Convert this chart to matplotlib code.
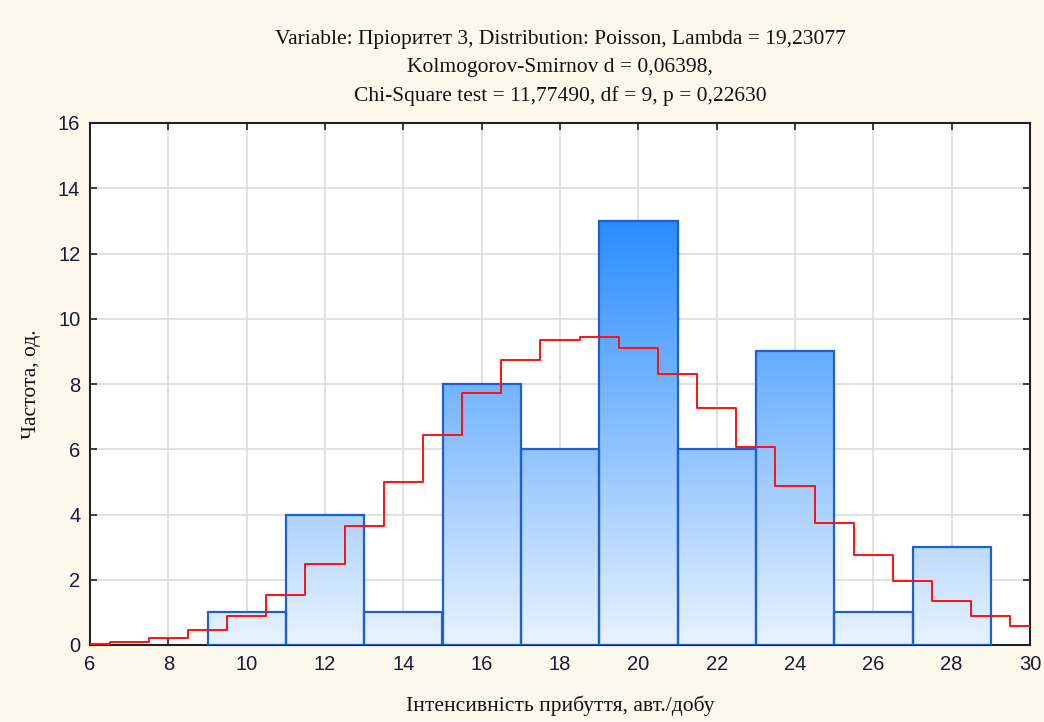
import numpy as np
import matplotlib
matplotlib.use("Agg")
import matplotlib.pyplot as plt
from matplotlib.colors import LinearSegmentedColormap

# Data
bin_edges = [9, 11, 13, 15, 17, 19, 21, 23, 25, 27, 29]
counts = [1, 4, 1, 8, 6, 13, 6, 9, 1, 3]
expected_x = list(range(6, 31))
expected_y = [0.03, 0.09, 0.21, 0.46, 0.88, 1.54, 2.47, 3.65, 5.01, 6.43, 7.73,
              8.74, 9.34, 9.45, 9.09, 8.32, 7.27, 6.08, 4.87, 3.75, 2.77, 1.97,
              1.35, 0.90, 0.58]
title_lines = ["Variable: Пріоритет 3, Distribution: Poisson, Lambda = 19,23077",
               "Kolmogorov-Smirnov d = 0,06398,",
               "Chi-Square test = 11,77490, df = 9, p = 0,22630"]
xlabel = "Інтенсивність прибуття, авт./добу"
ylabel = "Частота, од."

bg = "#fdf8ec"
fig = plt.figure(figsize=(10.44, 7.22), dpi=100, facecolor=bg)
ax = fig.add_axes([90/1044, 1-645/722, 940/1044, 522/722])
ax.set_facecolor("white")
ax.set_xticks(range(6, 31, 2))
ax.set_yticks(range(0, 17, 2))
ax.grid(True, color="#dcdcdc", linewidth=1.2, zorder=0)
ax.set_axisbelow(True)

cmap = LinearSegmentedColormap.from_list("g", ["#e8f3ff", "#2a8cff"])
grad = np.linspace(0, 1, 256).reshape(-1, 1)
widths = np.diff(bin_edges)
bars = ax.bar(bin_edges[:-1], counts, width=widths, align="edge",
              facecolor="none", edgecolor="#1f5fd0", linewidth=1.6, zorder=3)
for b in bars:
    im = ax.imshow(grad, extent=[6, 30, 0, 13], origin="lower", cmap=cmap,
                   aspect="auto", zorder=2, interpolation="bilinear")
    im.set_clip_path(b)
ax.set_xlim(6, 30)
ax.set_ylim(0, 16)

ax.step(expected_x, expected_y, where="mid", color="#ff1010", linewidth=1.4, zorder=4)

for s in ax.spines.values():
    s.set_color("#222222")
    s.set_linewidth(1.5)
ax.tick_params(direction="in", length=5, width=1.2, top=True, right=True,
               labelsize=14.5, pad=7, colors="#222222")
for lab in ax.get_xticklabels() + ax.get_yticklabels():
    lab.set_family(["Liberation Sans", "DejaVu Sans"])
    lab.set_color("#1a1a3a")

serif = ["Liberation Serif", "DejaVu Serif"]
ax.set_title("\n".join(title_lines), family=serif, fontsize=15.5, linespacing=1.62,
             pad=16, color="#111111")
ax.set_xlabel(xlabel, family=serif, fontsize=15.5, labelpad=16, color="#111111")
ax.set_ylabel(ylabel, family=serif, fontsize=15.5, labelpad=12, color="#111111")

fig.savefig("out.png", dpi=100, facecolor=bg)
